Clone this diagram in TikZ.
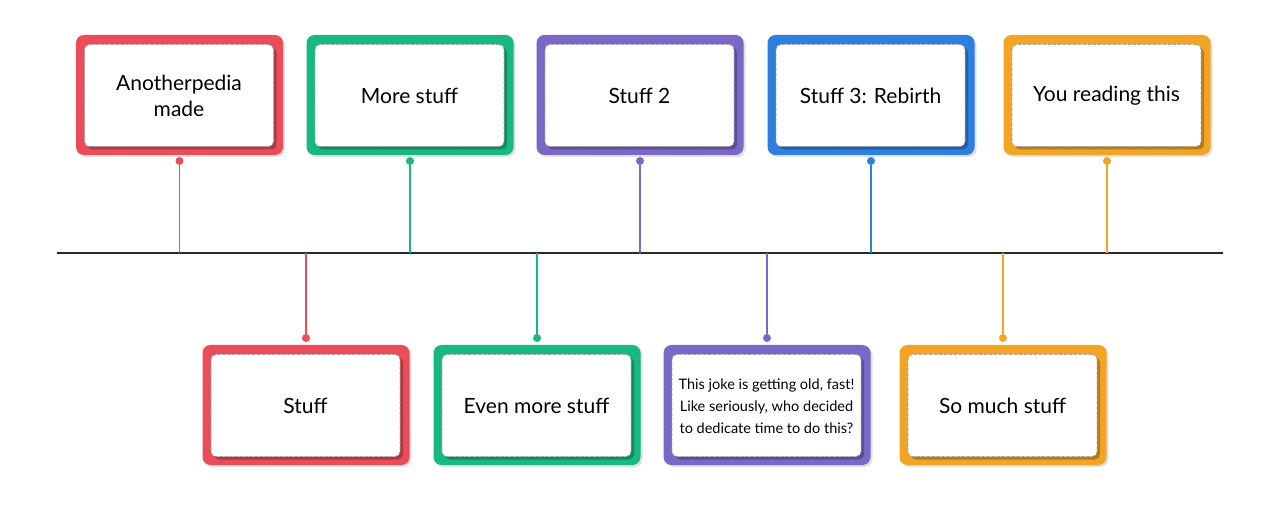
\documentclass[tikz,border=0pt]{standalone}
\usepackage{fontspec}
\setmainfont{Lato}
\usetikzlibrary{shadows}
\definecolor{cred}{HTML}{EA4C59}
\definecolor{cgreen}{HTML}{17B97F}
\definecolor{cpurple}{HTML}{7B67C8}
\definecolor{cblue}{HTML}{2D7FE0}
\definecolor{corange}{HTML}{F2A524}
\definecolor{cline}{HTML}{2B2B2B}
\tikzset{
  outerbox/.style={draw=none, fill=#1, rounded corners=8pt, minimum width=207pt, minimum height=120pt, inner sep=0pt,
    drop shadow={shadow xshift=2pt, shadow yshift=-2pt, opacity=0.12, fill=black}},
  innerbox/.style={draw=gray!70, dashed, dash pattern=on 3pt off 2pt, line width=0.6pt, fill=white, rounded corners=5pt,
    minimum width=189pt, minimum height=102pt, inner sep=0pt, align=center,
    font=\fontsize{21}{26}\selectfont,
    drop shadow={shadow xshift=3pt, shadow yshift=-3pt, opacity=0.25, fill=black}},
  dotn/.style={circle, fill=#1, inner sep=0pt, minimum size=8pt},
  conn/.style={draw=#1, line width=1.3pt},
}
\begin{document}
\begin{tikzpicture}[x=1pt,y=-1pt]
\useasboundingbox[fill=white] (0,0) rectangle (1280,521);
% timeline
\coordinate (tl) at (57,253);
\coordinate (tr) at (1223,253);
\draw[cline, line width=1.2pt] (tl) -- (tr);
% top row
\foreach \n/\x/\c/\t in {a/179.5/cred/{Anotherpedia\\made}, b/410/cgreen/{More stuff}, c/640/cpurple/{Stuff 2}, d/871/cblue/{Stuff 3: Rebirth}, e/1107/corange/{You reading this}}{
  \node[outerbox=\c] (o\n) at (\x,95) {};
  \node[innerbox] (i\n) at (\x-0.5,95.5) {\t};
  \node[dotn=\c] (p\n) at (\x,161) {};
  \coordinate (q\n) at (\x,253);
  \draw[conn=\c] (p\n) -- (q\n);
}
% bottom row
\foreach \n/\x/\c/\t in {f/306/cred/{Stuff}, g/537/cgreen/{Even more stuff}, h/767/cpurple/{}, k/1003/corange/{So much stuff}}{
  \node[outerbox=\c] (o\n) at (\x,405) {};
  \node[innerbox] (i\n) at (\x-0.5,405.5) {\t};
  \node[dotn=\c] (p\n) at (\x,338) {};
  \coordinate (q\n) at (\x,253);
  \draw[conn=\c] (q\n) -- (p\n);
}
\node[align=center, font=\fontsize{14.5}{22}\selectfont] (th) at (766.5,406) {This joke is getting old, fast!\\Like seriously, who decided\\to dedicate time to do this?};
\end{tikzpicture}
\end{document}
